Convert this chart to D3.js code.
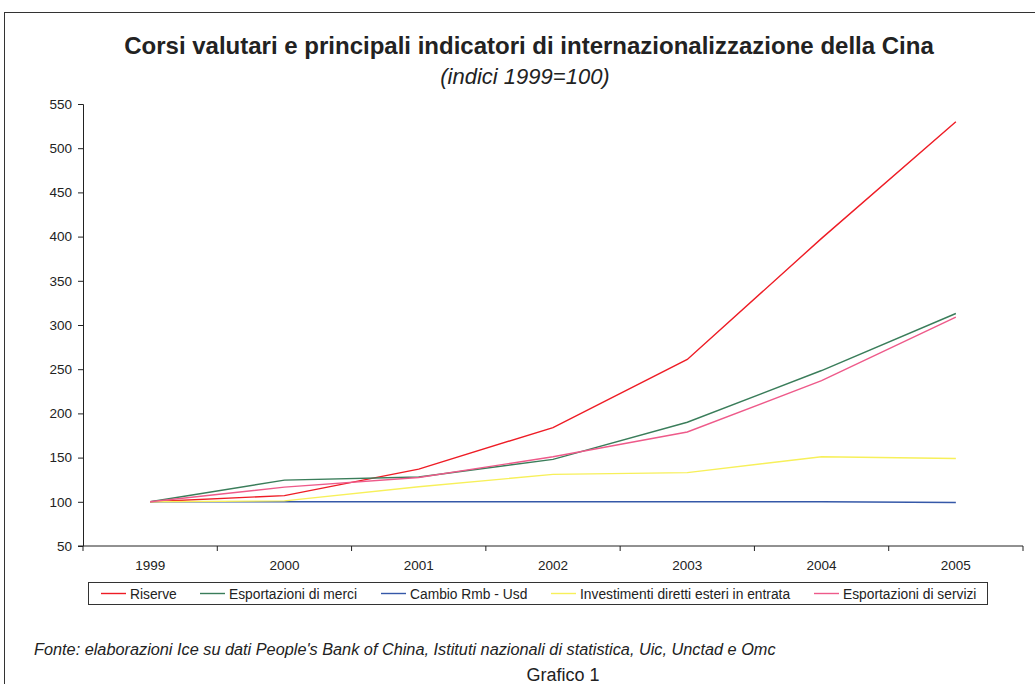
<!DOCTYPE html>
<html>
<head>
<meta charset="utf-8">
<script src="https://cdn.jsdelivr.net/npm/d3@7"></script>
<style>
  body { margin: 0; background: #fff; }
  text { font-family: "Liberation Sans", Arial, sans-serif; fill: #222; }
  .axis path, .axis line { stroke: #222; }
  .axis text { font-size: 13.5px; }
  .line { fill: none; stroke-width: 1.4; }
</style>
</head>
<body>
<div id="chart"></div>
<script>
var years = ["1999", "2000", "2001", "2002", "2003", "2004", "2005"];

var riserve   = [100, 107, 137, 184, 261, 398, 530];
var merci     = [100, 124.5, 128, 148, 190, 248.5, 313];
var cambio    = [100, 100, 100, 100, 100, 100, 99.2];
var investim  = [100, 101, 117, 131, 133, 151, 149];
var servizi   = [100, 116.6, 127.5, 151, 179, 237, 309];

var seriesNames  = ["Riserve", "Esportazioni di merci", "Cambio Rmb - Usd",
                    "Investimenti diretti esteri in entrata", "Esportazioni di servizi"];
var seriesValues = [riserve, merci, cambio, investim, servizi];
var seriesColors = ["#ee1c25", "#3a7d5a", "#3558a8", "#f7f05a", "#ee5a8a"];

var yTicks = [50, 100, 150, 200, 250, 300, 350, 400, 450, 500, 550];

var W = 1035, H = 684;
var margin = {left: 83, top: 104, right: 12, bottom: 138};
var width = 1023 - margin.left,
    height = 546 - margin.top;

var svg = d3.select("#chart").append("svg")
    .attr("width", W)
    .attr("height", H);

/* outer frame */
svg.append("rect")
    .attr("x", 4.5).attr("y", 12.5)
    .attr("width", W).attr("height", H)
    .attr("fill", "none").attr("stroke", "#333").attr("stroke-width", 1);

svg.append("text")
    .attr("x", 529).attr("y", 54)
    .attr("text-anchor", "middle")
    .style("font-size", "24px").style("font-weight", "bold")
    .text("Corsi valutari e principali indicatori di internazionalizzazione della Cina");

svg.append("text")
    .attr("x", 525).attr("y", 84)
    .attr("text-anchor", "middle")
    .style("font-size", "22px").style("font-style", "italic")
    .text("(indici 1999=100)");

var g = svg.append("g")
    .attr("transform", "translate(" + margin.left + "," + margin.top + ")");

var x = d3.scaleBand().domain(years).range([0, width]);
var y = d3.scaleLinear().domain([50, 550]).range([height, 0]);

var xAxis = d3.axisBottom(x).tickSize(0).tickPadding(14),
    yAxis = d3.axisLeft(y).tickValues(yTicks).tickSize(5).tickPadding(6);

g.append("g")
    .attr("class", "axis axis--y")
    .call(yAxis)
    .call(function(s) { s.select(".domain").attr("d", "M-5,0.5H0.5V" + height + "H-5"); });

var gX = g.append("g")
    .attr("class", "axis axis--x")
    .attr("transform", "translate(0," + height + ")")
    .call(xAxis);
gX.select(".domain").attr("d", "M0,0H" + width);

/* x ticks sit at band boundaries */
var bounds = years.map(function(d) { return x(d); }).concat([width]);
gX.selectAll(".bound").data(bounds).enter().append("line")
    .attr("class", "bound")
    .attr("x1", function(d) { return d; }).attr("x2", function(d) { return d; })
    .attr("y1", 0).attr("y2", 5)
    .attr("stroke", "#222");

var line = d3.line()
    .x(function(d, i) { return x(years[i]) + x.bandwidth() / 2; })
    .y(function(d) { return y(d); });

seriesValues.forEach(function(vals, k) {
  g.append("path")
    .datum(vals)
    .attr("class", "line")
    .attr("stroke", seriesColors[k])
    .attr("d", line);
});

/* legend */
var lg = svg.append("g");
lg.append("rect")
    .attr("x", 88.5).attr("y", 582.5)
    .attr("width", 899).attr("height", 22)
    .attr("fill", "#fff").attr("stroke", "#333");

var legX = [101, 200, 381, 551, 814];
seriesNames.forEach(function(name, k) {
  lg.append("line")
    .attr("x1", legX[k]).attr("x2", legX[k] + 25)
    .attr("y1", 593.5).attr("y2", 593.5)
    .attr("stroke", seriesColors[k]).attr("stroke-width", 1.4);
  lg.append("text")
    .attr("x", legX[k] + 29).attr("y", 598.5)
    .style("font-size", "13.8px")
    .text(name);
});

svg.append("text")
    .attr("x", 34).attr("y", 655)
    .style("font-size", "16.3px").style("font-style", "italic")
    .text("Fonte: elaborazioni Ice su dati People's Bank of China, Istituti nazionali di statistica, Uic, Unctad e Omc");

svg.append("text")
    .attr("x", 563).attr("y", 681)
    .attr("text-anchor", "middle")
    .style("font-size", "18px")
    .text("Grafico 1");
</script>
</body>
</html>
